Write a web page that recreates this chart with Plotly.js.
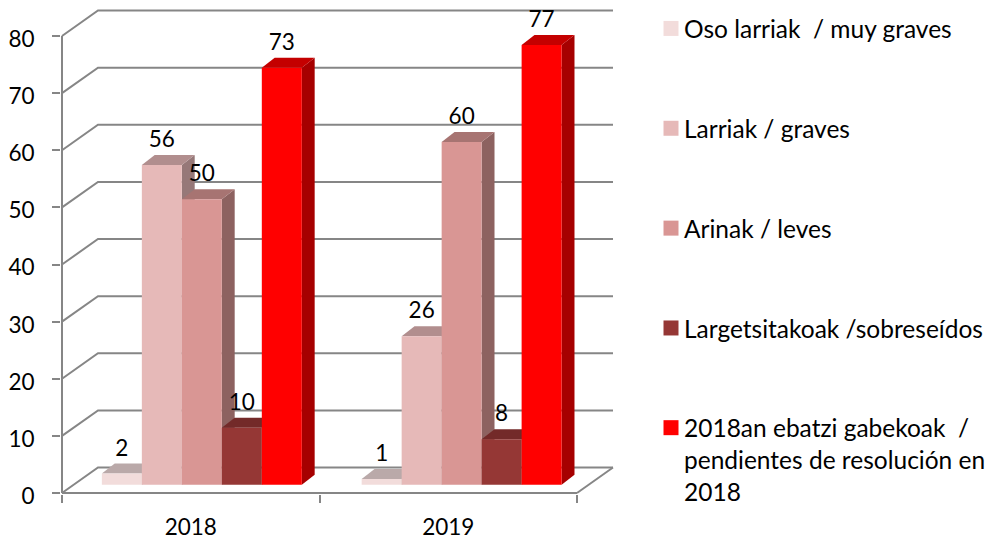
<!DOCTYPE html>
<html>
<head>
<meta charset="utf-8">
<script src="https://cdn.plot.ly/plotly-3.0.1.min.js"></script>
<style>html,body{margin:0;padding:0;background:#fff}</style>
</head>
<body>
<div id="chart" style="width:994px;height:540px"></div>
<script>
const categories = ["2018", "2019"];
const seriesNames = [
  "Oso larriak  / muy graves",
  "Larriak / graves",
  "Arinak / leves",
  "Largetsitakoak /sobreseídos",
  "2018an ebatzi gabekoak  /<br>pendientes de resolución en<br>2018"
];
const osoLarriak = [2, 1];
const larriak = [56, 26];
const arinak = [50, 60];
const largetsitakoak = [10, 8];
const gabekoak = [73, 77];
const seriesValues = [osoLarriak, larriak, arinak, largetsitakoak, gabekoak];
const frontColors = ["#F2DCDB", "#E6B9B8", "#D99694", "#953735", "#FF0000"];
const yTicks = [0, 10, 20, 30, 40, 50, 60, 70, 80];

// 3D look, in axis units
const clusterCenters = [0.543, 1.552];
const barWidth = 0.1553;
const floorLift = 1.43;
const wallDx = 0.1398, wallDy = 4.46;
const barDx = 0.05, barDy = 1.75;
const labelLift = 2.36;
const wallColor = "#868686";
const fontFamily = "Lato, 'Open Sans', sans-serif";

function shade(hex, f) {
  const n = parseInt(hex.slice(1), 16);
  return "rgb(" + [(n >> 16) & 255, (n >> 8) & 255, n & 255].map(c => Math.round(c * f)).join(",") + ")";
}
function poly(xs, ys, color) {
  return {type: "scatter", mode: "lines", x: xs.concat(xs[0]), y: ys.concat(ys[0]), fill: "toself",
    fillcolor: color, line: {width: 0, color: color}, hoverinfo: "skip", showlegend: false};
}
function wire(xs, ys) {
  return {type: "scatter", mode: "lines", x: xs, y: ys, line: {color: wallColor, width: 2}, hoverinfo: "skip", showlegend: false};
}

const traces = [];
// back wall and floor lines
yTicks.forEach(v => traces.push(wire([0, wallDx, 2 + wallDx], [v, v + wallDy, v + wallDy])));
traces.push(wire([2, 2 + wallDx], [0, wallDy]));
// front axis lines
traces.push(wire([0, 0], [0, 80]));
traces.push(wire([0, 2], [0, 0]));

// side and top faces, painted left to right
categories.forEach((c, ci) => {
  seriesValues.forEach((vals, si) => {
    const xl = clusterCenters[ci] + (si - 2.5) * barWidth, xr = xl + barWidth;
    const top = floorLift + vals[ci];
    traces.push(poly([xr, xr + barDx, xr + barDx, xr], [floorLift, floorLift + barDy, top + barDy, top], shade(frontColors[si], 0.65)));
    traces.push(poly([xl, xr, xr + barDx, xl + barDx], [top, top, top + barDy, top + barDy], shade(frontColors[si], 0.77)));
  });
});

// front faces
seriesValues.forEach((vals, si) => {
  traces.push({type: "bar", name: seriesNames[si], xaxis: "x2", yaxis: "y2",
    x: clusterCenters.map(c => c + (si - 2) * barWidth), y: vals, base: vals.map(() => floorLift), width: barWidth,
    marker: {color: frontColors[si]}, legendgroup: "g" + si});
});

// data labels
seriesValues.forEach((vals, si) => {
  traces.push({type: "scatter", mode: "text", xaxis: "x2", yaxis: "y2", showlegend: false,
    x: clusterCenters.map(c => c + (si - 2) * barWidth), y: vals.map(v => v + floorLift + barDy + labelLift),
    text: vals.map(String), textposition: "middle center", textfont: {family: fontFamily, size: 22.5, color: "#000"}, hoverinfo: "skip"});
});

const X0 = 62, Y0 = 493, PXX = 257.5, PXY = 457 / 80;
const L = 61, R = 620, T = 4, B = 494;
const xRange = [(L - X0) / PXX, (R - X0) / PXX];
const yRange = [(Y0 - B) / PXY, (Y0 - T) / PXY];
const layout = {
  width: 994, height: 540, margin: {l: L, r: 994 - R, t: T, b: 540 - B, pad: 0, autoexpand: false},
  paper_bgcolor: "#fff", plot_bgcolor: "rgba(0,0,0,0)", showlegend: true, barmode: "overlay",
  font: {family: fontFamily, size: 22.5, color: "#000"},
  xaxis: {range: xRange, fixedrange: true, showgrid: false, zeroline: false, showline: false,
    tickmode: "array", tickvals: [0.5, 1.5], ticktext: categories, ticks: "", ticklabelstandoff: 17,
    minor: {tickmode: "array", tickvals: [0, 1, 2], ticks: "outside", ticklen: 8, tickwidth: 2, tickcolor: wallColor, showgrid: false}},
  yaxis: {range: yRange, fixedrange: true, showgrid: false, zeroline: false, showline: false,
    tickmode: "array", tickvals: yTicks, ticks: "outside", ticklen: 8, tickwidth: 2, tickcolor: wallColor, ticklabelstandoff: 13, ticklabelshift: 3},
  xaxis2: {range: xRange, overlaying: "x", anchor: "y2", visible: false, fixedrange: true},
  yaxis2: {range: yRange, overlaying: "y", anchor: "x2", visible: false, fixedrange: true},
  legend: {x: (644 - L) / (R - L), xanchor: "left", y: 1 + (T - 6) / (B - T), yanchor: "top", traceorder: "grouped", tracegroupgap: 65,
    itemwidth: 30, maxheight: 530, font: {family: fontFamily, size: 24.5, color: "#000"}, bgcolor: "rgba(0,0,0,0)"}
};
Plotly.newPlot("chart", traces, layout, {displayModeBar: false, staticPlot: true}).then(() => {
  // legend swatches: 15px squares close to the text, level with the first text line
  const groups = document.querySelectorAll(".legend .legendpoints");
  groups.forEach((g, i) => {
    g.setAttribute("transform", "translate(7," + (i === groups.length - 1 ? -32 : 0) + ")");
    g.querySelectorAll("path").forEach(p => p.setAttribute("d", "M7.5,7.5H-7.5V-7.5H7.5Z"));
  });
});
</script>
</body>
</html>
